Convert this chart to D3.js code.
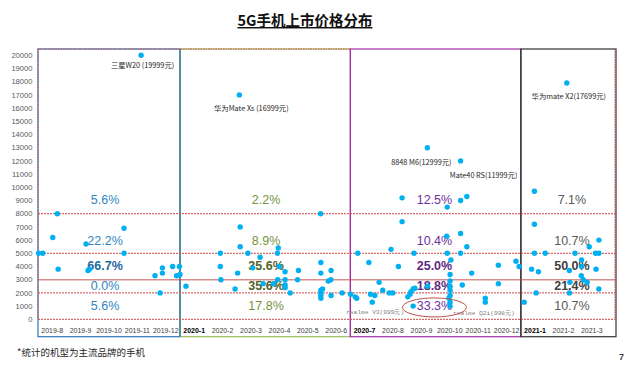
<!DOCTYPE html>
<html><head><meta charset="utf-8">
<script src="https://cdn.jsdelivr.net/npm/d3@7/dist/d3.min.js"></script>
<style>body{margin:0;background:#fff;}svg{display:block;}</style>
</head><body>
<script>
const categories = ["2019-8","2019-9","2019-10","2019-11","2019-12",
  "2020-1","2020-2","2020-3","2020-4","2020-5","2020-6",
  "2020-7","2020-8","2020-9","2020-10","2020-11","2020-12",
  "2021-1","2021-2","2021-3"];
const boldCategories = ["2020-1","2020-7","2021-1"];
const yTicks = d3.range(0, 20001, 1000);
const priceBreaks = [8000, 5000, 2000];
const midBreak = 3000;

// phone release points: month position (0 = start of 2019-8) and price (元)
const pointMonth = [
  0.02,0.17,0.68,0.52,0.71,1.69,1.81,1.76,3.03,3.03,3.63,4.12,4.38,4.38,4.30,4.74,4.98,4.88,5.00,5.21,
  6.42,6.42,6.44,6.94,7.03,7.12,7.12,7.09,7.39,7.56,7.82,7.93,8.29,8.43,8.46,8.44,8.50,8.70,8.70,8.70,8.70,8.88,9.17,9.14,
  9.95,9.96,9.96,9.96,9.96,9.96,9.96,10.02,10.32,10.22,10.31,10.32,10.71,
  11.01,11.17,11.22,11.26,11.65,11.71,11.86,11.77,12.01,12.14,12.37,12.49,12.43,12.69,12.82,12.82,
  13.24,13.02,13.13,13.21,13.27,13.10,13.21,13.71,13.71,
  14.41,14.39,14.41,14.54,14.51,14.51,14.51,14.51,14.51,14.47,14.51,14.51,
  14.88,15.10,14.88,15.10,14.88,14.88,14.94,15.27,15.75,15.75,16.21,16.21,16.83,16.94,
  17.12,17.48,17.48,17.48,17.86,17.38,17.62,17.54,18.62,18.91,19.14,19.14,19.13,19.20,19.34,
  18.71,18.73,18.71,19.41,19.75,19.63,19.75,19.65,19.75
];
const pointPrice = [
  4999,4999,7999,6199,3799,5699,3799,3699,6899,4999,19999,3299,3899,3499,1999,3999,3999,3299,3399,2499,
  4999,3999,2999,2299,3499,6999,5499,16999,4999,3899,4699,2699,2699,4999,5399,2999,3999,3599,2999,2599,2399,1999,3699,2999,
  7999,4299,3499,2199,1999,1799,1599,2299,3699,2899,2999,1799,1999,
  1899,1699,1599,4999,4299,1899,1799,1299,2799,2199,1999,1999,5299,3999,9199,7399,
  4999,1699,2099,2299,2349,1899,999,2499,12999,
  8499,6299,4999,4499,3399,2899,2499,2199,1799,1599,1299,999,
  8999,9299,6499,5499,4999,11999,2599,3499,1599,1299,4099,2699,4399,3999,
  1299,9699,7199,4999,4999,3799,3599,1999,17899,4999,4499,3999,3299,2999,2799,
  3699,2799,1999,5499,5999,4999,4999,3799,2299
];

const annotations = [
  {text:"三星W20 (19999元)", month:3.63, price:19999, dx:1.5, dy:10},
  {text:"华为Mate Xs (16999元)", month:7.09, price:16999, dx:12, dy:14},
  {text:"8848 M6(12999元)", month:13.71, price:12999, dx:-6, dy:15},
  {text:"Mate40 RS(11999元)", month:14.88, price:11999, dx:23, dy:15},
  {text:"华为mate X2(17699元)", month:18.62, price:17899, dx:2, dy:13}
];
const realmeLabels = [
  {text:"realme V3(999元)", month:13.21, price:999, dx:-38, dy:6},
  {text:"realme Q2i(998元)", month:14.51, price:999, dx:3, dy:7}
];

const periodStarts = [0, 5, 11, 17];
const periodEnds = [5, 11, 17, 20];
const pct2019 = ["5.6%","22.2%","66.7%","0.0%","5.6%"];
const pct2020H1 = ["2.2%","8.9%","35.6%","35.6%","17.8%"];
const pct2020H2 = ["12.5%","10.4%","25.0%","18.8%","33.3%"];
const pct2021 = ["7.1%","10.7%","50.0%","21.4%","10.7%"];
const pctSets = [pct2019, pct2020H1, pct2020H2, pct2021];
const pctBold = [[2], [2, 3], [2, 3], [2, 3]];

const W = 631, H = 367;
const svg = d3.select("body").append("svg").attr("width", W).attr("height", H);

const x = d3.scaleLinear().domain([0, 20]).range([38, 606]);
const y = d3.scaleLinear().domain([0, 20000]).range([319.3, 55.3]);
const plotLeft = 38, plotRight = 615, plotTop = 49, boxBottom = 336.7;

// title
svg.append("text").attr("x", 305).attr("y", 26).attr("text-anchor", "middle")
  .attr("font-family", "'Noto Sans CJK SC', sans-serif").attr("font-weight", "bold")
  .attr("font-size", 14.5).attr("fill", "#111").style("text-decoration", "underline")
  .text("5G手机上市价格分布");

// period boxes
const boxColors = ["#2E75B6", "#9BBB59", "#A52FA8", "#404040"];
periodStarts.forEach((s, i) => {
  const x0 = i === 0 ? plotLeft : x(s);
  const x1 = i === 3 ? plotRight + 1 : x(periodEnds[i]);
  svg.append("rect").attr("x", x0).attr("y", plotTop).attr("width", x1 - x0)
    .attr("height", boxBottom - plotTop).attr("fill", "none")
    .attr("stroke", boxColors[i]).attr("stroke-width", i === 3 ? 1.3 : 1.2);
});
[1, 2, 3].forEach(i => {
  svg.append("line").attr("x1", x(periodStarts[i])).attr("x2", x(periodStarts[i]))
    .attr("y1", plotTop).attr("y2", boxBottom)
    .attr("stroke", boxColors[i === 1 ? 0 : i]).attr("stroke-width", 1.2);
});

// red dotted plot borders
const red = "#D04545";
svg.append("line").attr("x1", plotLeft).attr("x2", x(11)).attr("y1", plotTop).attr("y2", plotTop)
  .attr("stroke", red).attr("stroke-dasharray", "1.5,1").attr("stroke-width", 1);
[plotLeft, plotRight].forEach(px => {
  svg.append("line").attr("x1", px).attr("x2", px).attr("y1", plotTop).attr("y2", y(0))
    .attr("stroke", red).attr("stroke-dasharray", "1.5,1").attr("stroke-width", 1);
});

// horizontal price break lines
priceBreaks.concat([0]).forEach(v => {
  svg.append("line").attr("x1", plotLeft).attr("x2", plotRight).attr("y1", y(v)).attr("y2", y(v))
    .attr("stroke", red).attr("stroke-dasharray", "2,1").attr("stroke-width", 1);
});
svg.append("line").attr("x1", plotLeft).attr("x2", plotRight).attr("y1", y(midBreak)).attr("y2", y(midBreak))
  .attr("stroke", "#C0504D").attr("stroke-opacity", 0.65).attr("stroke-width", 1.6);

// y axis labels
svg.append("g").selectAll("text").data(yTicks).join("text")
  .attr("x", 32.5).attr("y", d => y(d)).attr("dy", "0.35em").attr("text-anchor", "end")
  .attr("font-family", "'Liberation Sans', Arial, sans-serif").attr("font-size", 7.6)
  .attr("fill", "#595959").text(d => d);

// x category labels
svg.append("g").selectAll("text").data(categories).join("text")
  .attr("x", (d, i) => x(i + 0.5)).attr("y", 331).attr("dy", "0.35em").attr("text-anchor", "middle")
  .attr("font-family", "'Liberation Sans', Arial, sans-serif").attr("font-size", 7)
  .attr("font-weight", d => boldCategories.includes(d) ? "bold" : "normal")
  .attr("fill", d => boldCategories.includes(d) ? "#000" : "#404040").text(d => d);

// percentage labels
const pctPrice = [9100, 5950, 4040, 2520, 1010];
const pctMonth = [2.36, 8.03, 13.96, 18.8];
const pctColor = [["#2E86C1", "#1F6A9E"], ["#76923C", "#4F6228"], ["#7030A0", "#5E2B82"], ["#595959", "#404040"]];
pctSets.forEach((set, g) => {
  svg.append("g").selectAll("text").data(set).join("text")
    .attr("x", x(pctMonth[g])).attr("y", (d, i) => y(pctPrice[i])).attr("dy", "0.35em")
    .attr("text-anchor", "middle").attr("font-family", "'Liberation Sans', Arial, sans-serif")
    .attr("font-size", 12.5)
    .attr("font-weight", (d, i) => pctBold[g].includes(i) ? "bold" : "normal")
    .attr("fill", (d, i) => pctBold[g].includes(i) ? pctColor[g][1] : pctColor[g][0])
    .text(d => d);
});

// points
const pts = pointMonth.map((m, i) => ({m, p: pointPrice[i]}));
svg.append("g").selectAll("circle").data(pts).join("circle")
  .attr("cx", d => x(d.m)).attr("cy", d => y(d.p)).attr("r", 2.7).attr("fill", "#00B0F0");

// annotations
svg.append("g").selectAll("text").data(annotations).join("text")
  .attr("x", d => x(d.month) + d.dx).attr("y", d => y(d.price) + d.dy).attr("dy", "0.35em")
  .attr("text-anchor", "middle").attr("font-family", "'Noto Sans CJK SC', sans-serif")
  .attr("font-size", 7.3).attr("fill", "#262626").text(d => d.text);

svg.append("g").selectAll("text").data(realmeLabels).join("text")
  .attr("x", d => x(d.month) + d.dx).attr("y", d => y(d.price) + d.dy).attr("dy", "0.35em")
  .attr("text-anchor", d => d.dx < 0 ? "middle" : "start").attr("font-family", "'Liberation Mono', monospace")
  .attr("font-size", 6.2).attr("fill", "#808080").text(d => d.text);

// ellipse highlighting the lowest price band
svg.append("ellipse").attr("cx", x(13.96)).attr("cy", y(900)).attr("rx", 32).attr("ry", 9.5)
  .attr("fill", "none").attr("stroke", "#C0504D").attr("stroke-width", 1);

// footnote & page number
svg.append("text").attr("x", 17).attr("y", 356)
  .attr("font-family", "'Noto Sans CJK SC', sans-serif").attr("font-size", 9.5).attr("fill", "#262626")
  .text("*统计的机型为主流品牌的手机");
svg.append("text").attr("x", 624).attr("y", 360).attr("text-anchor", "end")
  .attr("font-family", "'Liberation Sans', Arial, sans-serif").attr("font-size", 9).attr("font-weight", "bold")
  .attr("fill", "#404040").text("7");
</script>
</body></html>
